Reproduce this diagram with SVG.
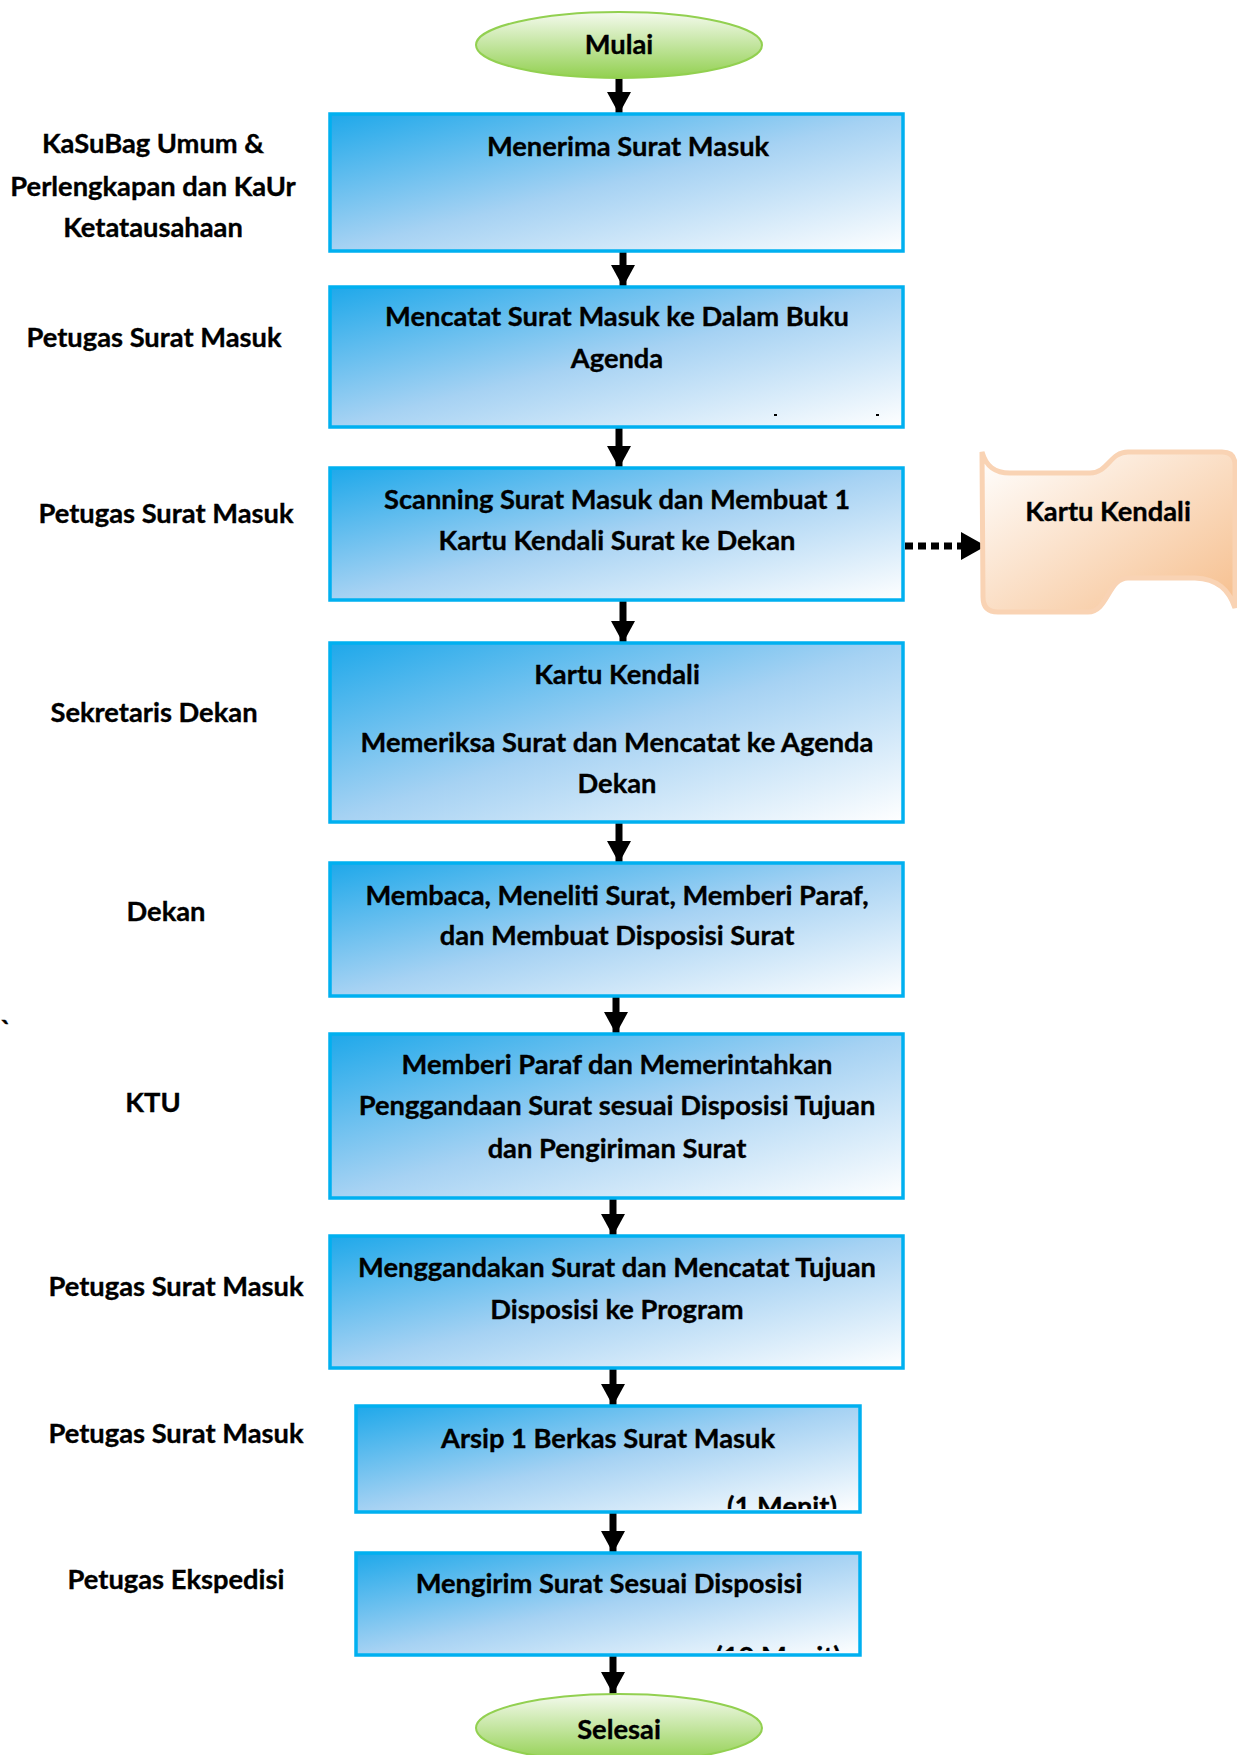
<svg xmlns="http://www.w3.org/2000/svg" width="1237" height="1755" viewBox="0 0 1237 1755">
<style>
text{font-family:Lato,"Liberation Sans",sans-serif;font-weight:bold;font-size:27.3px;fill:#000;stroke:#000;stroke-width:0.35;text-anchor:middle}
.box{fill:url(#gb);stroke:#00B0F0;stroke-width:3.5}
.term{fill:url(#gg);stroke:#92D050;stroke-width:2}
.conn{stroke:#000;stroke-width:7;fill:none;marker-end:url(#ah)}
.dot{stroke:#000;stroke-width:7;fill:none;stroke-dasharray:8 5}
</style>
<defs>
<linearGradient id="gb" x1="0" y1="0" x2="1" y2="1">
<stop offset="0" stop-color="#1EA8EA"/>
<stop offset="0.5" stop-color="#A6D2F3"/>
<stop offset="1" stop-color="#FFFFFF"/>
</linearGradient>
<linearGradient id="gg" x1="0" y1="0" x2="0" y2="1">
<stop offset="0" stop-color="#F4FAEE"/>
<stop offset="1" stop-color="#92D050"/>
</linearGradient>
<linearGradient id="gp" x1="0" y1="0" x2="1" y2="1">
<stop offset="0" stop-color="#FFFFFF"/>
<stop offset="1" stop-color="#F6BE8C"/>
</linearGradient>
<marker id="ah" markerUnits="userSpaceOnUse" markerWidth="24" markerHeight="24" refX="22" refY="12" orient="auto">
<path d="M0,0 L22,12 L0,24 Z" fill="#000"/>
</marker>
<clipPath id="c8"><rect x="358" y="1408" width="500" height="101"/></clipPath>
<clipPath id="c9"><rect x="358" y="1555" width="500" height="96"/></clipPath>
</defs>

<g id="connectors">
<line class="conn" x1="619" y1="78" x2="619" y2="114"/>
<line class="conn" x1="623" y1="251" x2="623" y2="287"/>
<line class="conn" x1="619" y1="427" x2="619" y2="468"/>
<line class="conn" x1="623" y1="600" x2="623" y2="643"/>
<line class="conn" x1="619" y1="822" x2="619" y2="863"/>
<line class="conn" x1="616" y1="996" x2="616" y2="1034"/>
<line class="conn" x1="613" y1="1198" x2="613" y2="1236"/>
<line class="conn" x1="613" y1="1368" x2="613" y2="1406"/>
<line class="conn" x1="613" y1="1512" x2="613" y2="1553"/>
<line class="conn" x1="613" y1="1655" x2="613" y2="1694"/>
<line class="dot" x1="905" y1="546" x2="962" y2="546"/>
<path d="M961,532 L986,546 L961,560 Z" fill="#000"/>
</g>

<g id="mulai">
<ellipse class="term" cx="619" cy="45" rx="143" ry="33"/>
<text x="619" y="54">Mulai</text>
</g>

<g id="box1">
<rect class="box" x="330" y="114" width="573" height="137"/>
<text x="628" y="156">Menerima Surat Masuk</text>
</g>

<g id="box2">
<rect class="box" x="330" y="287" width="573" height="140"/>
<text x="617" y="326">Mencatat Surat Masuk ke Dalam Buku</text>
<text x="617" y="368">Agenda</text>
<rect x="774" y="414" width="3" height="2" fill="#000"/>
<rect x="876" y="414" width="3" height="2" fill="#000"/>
</g>

<g id="box3">
<rect class="box" x="330" y="468" width="573" height="132"/>
<text x="617" y="509">Scanning Surat Masuk dan Membuat 1</text>
<text x="617" y="550">Kartu Kendali Surat ke Dekan</text>
</g>

<g id="kartu">
<path d="M982,452 C986,466 994,473 1010,473 L1090,473 C1108,473 1110,452 1128,452 L1222,452 Q1235,452 1235,465 L1235,608 C1229,590 1218,579 1195,578 L1128,578 C1108,578 1108,612 1088,612 L998,612 Q983,612 983,597 Z" fill="url(#gp)" stroke="#F9D3B4" stroke-width="5"/>
<text x="1108" y="521">Kartu Kendali</text>
</g>

<g id="box4">
<rect class="box" x="330" y="643" width="573" height="179"/>
<text x="617" y="684">Kartu Kendali</text>
<text x="617" y="752">Memeriksa Surat dan Mencatat ke Agenda</text>
<text x="617" y="793">Dekan</text>
</g>

<g id="box5">
<rect class="box" x="330" y="863" width="573" height="133"/>
<text x="617" y="905">Membaca, Meneliti Surat, Memberi Paraf,</text>
<text x="617" y="945">dan Membuat Disposisi Surat</text>
</g>

<g id="box6">
<rect class="box" x="330" y="1034" width="573" height="164"/>
<text x="617" y="1074">Memberi Paraf dan Memerintahkan</text>
<text x="617" y="1115">Penggandaan Surat sesuai Disposisi Tujuan</text>
<text x="617" y="1158">dan Pengiriman Surat</text>
</g>

<g id="box7">
<rect class="box" x="330" y="1236" width="573" height="132"/>
<text x="617" y="1277">Menggandakan Surat dan Mencatat Tujuan</text>
<text x="617" y="1319">Disposisi ke Program</text>
</g>

<g id="box8">
<rect class="box" x="356" y="1406" width="504" height="106"/>
<text x="608" y="1448">Arsip 1 Berkas Surat Masuk</text>
<text x="782" y="1516" clip-path="url(#c8)">(1 Menit)</text>
</g>

<g id="box9">
<rect class="box" x="356" y="1553" width="504" height="102"/>
<text x="609" y="1593">Mengirim Surat Sesuai Disposisi</text>
<text x="778" y="1666" clip-path="url(#c9)">(10 Menit)</text>
</g>

<g id="selesai">
<ellipse class="term" cx="619" cy="1728" rx="143" ry="34"/>
<text x="619" y="1739">Selesai</text>
</g>

<g id="labels">
<text x="153" y="153">KaSuBag Umum &amp;</text>
<text x="153" y="196">Perlengkapan dan KaUr</text>
<text x="153" y="237">Ketatausahaan</text>
<text x="154" y="347">Petugas Surat Masuk</text>
<text x="166" y="523">Petugas Surat Masuk</text>
<text x="154" y="722">Sekretaris Dekan</text>
<text x="166" y="921">Dekan</text>
<text x="153" y="1112">KTU</text>
<text x="176" y="1296">Petugas Surat Masuk</text>
<text x="176" y="1443">Petugas Surat Masuk</text>
<text x="176" y="1589">Petugas Ekspedisi</text>
<text x="6" y="1040">`</text>
</g>
</svg>
